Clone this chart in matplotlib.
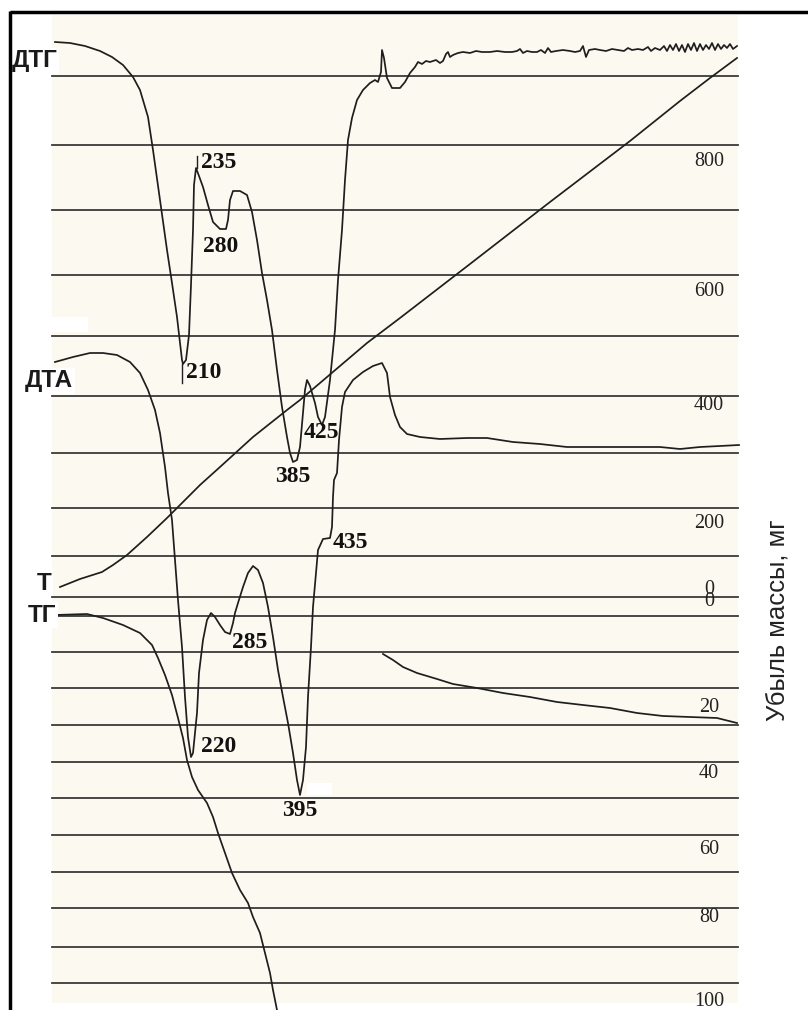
import matplotlib
matplotlib.use("Agg")
import matplotlib.pyplot as plt
from matplotlib.patches import Rectangle

# ---------------- data (chart units: x right, y down) ----
grid_y = [76, 145, 210, 275, 336, 396, 453, 508, 556, 597, 616, 652, 688, 725,
          762, 798, 835, 872, 908, 947, 983]

dtg_x = [55, 70, 85, 100, 112, 123, 133, 140, 148, 153, 160, 167, 172, 177, 180, 182, 183, 186, 189,
         191, 193, 194, 196, 199, 203, 208, 213, 220, 226, 228, 230, 233, 240, 247, 252, 257,
         262, 267, 272, 277, 282, 287, 290, 293, 297, 300, 303, 305, 307, 310, 315, 318,
         322, 325, 330, 335, 338, 342, 345, 348, 352, 357, 363, 370, 375, 378, 381, 382,
         384, 387, 392, 400, 405, 410, 415, 418, 422, 426, 430, 436, 440, 443, 446, 448,
         450, 453, 458, 463, 470, 476, 482, 490, 497, 505, 512, 517, 520, 523, 527, 532,
         537, 541, 545, 548, 551, 556, 563, 570, 575, 580, 583, 586, 589, 595, 600, 606,
         612, 618, 624, 628, 632, 638, 643, 648, 651, 655, 660, 664, 667, 670, 673, 676,
         679, 682, 685, 688, 691, 694, 697, 700, 703, 706, 709, 712, 715, 718, 721, 724,
         727, 730, 733, 737]
dtg_y = [42, 43, 46, 51, 57, 65, 77, 90, 117, 150, 200, 250, 283, 317, 343, 360, 364, 360, 335,
         285, 230, 185, 168, 176, 187, 205, 222, 229, 229, 220, 200, 191, 191, 195, 212, 240,
         273, 300, 330, 370, 407, 437, 453, 462, 460, 447, 413, 390, 380, 386, 403, 417,
         425, 417, 380, 330, 280, 230, 180, 140, 118, 100, 90, 83, 80, 82, 72, 50,
         58, 78, 88, 88, 82, 73, 67, 62, 64, 61, 62, 60, 63, 61, 54, 52,
         57, 55, 53, 52, 53, 51, 52, 52, 51, 52, 52, 51, 49, 53, 51, 52,
         52, 50, 53, 48, 52, 51, 50, 51, 52, 51, 46, 57, 50, 49, 50, 51,
         49, 50, 51, 48, 50, 49, 50, 47, 51, 48, 50, 46, 51, 45, 50, 44,
         51, 45, 52, 44, 50, 43, 51, 44, 50, 45, 49, 43, 50, 44, 49, 45,
         48, 44, 49, 46]

dta_x = [55, 73, 90, 103, 117, 130, 140, 148, 155, 160, 165, 168, 172, 175, 178, 182, 185, 188,
         191, 193, 197, 199, 203, 207, 211, 215, 220, 225, 230, 233, 235, 238, 243, 248,
         253, 258, 263, 268, 273, 278, 283, 288, 293, 297, 300, 303, 306, 308, 311, 313,
         316, 318, 323, 330, 332, 333, 334, 337, 339, 342, 345, 353, 363, 373, 382, 387,
         390, 395, 400, 407, 420, 440, 467, 487, 513, 540, 567, 600, 633, 660, 680, 700,
         720, 739]
dta_y = [362, 357, 353, 353, 355, 362, 373, 390, 410, 433, 467, 493, 520, 560, 600, 647, 697, 737,
         757, 753, 713, 673, 640, 620, 613, 617, 625, 632, 634, 623, 613, 603, 587, 573,
         566, 570, 583, 607, 637, 670, 697, 723, 753, 780, 795, 780, 747, 697, 647, 607,
         573, 550, 539, 538, 527, 497, 480, 473, 440, 407, 392, 380, 372, 366, 363, 373,
         397, 415, 427, 434, 437, 439, 438, 438, 442, 444, 447, 447, 447, 447, 449, 447,
         446, 445]

t_x = [60, 80, 102, 113, 127, 147, 167, 180, 200, 220, 253, 287, 300, 367, 400, 470, 550,
       630, 680, 710, 737]
t_y = [587, 579, 572, 565, 555, 537, 518, 505, 485, 467, 437, 410, 400, 343, 318, 264, 202,
       141, 101, 78, 58]

tg1_x = [55, 87, 103, 123, 140, 152, 158, 165, 172, 178, 183, 187, 192, 198, 207, 213, 218,
         225, 232, 240, 248, 253, 260, 265, 270, 273, 277]
tg1_y = [615, 614, 618, 625, 633, 645, 658, 675, 695, 718, 738, 760, 777, 790, 803, 817, 833,
         853, 873, 890, 903, 917, 933, 953, 973, 990, 1010]

tg2_x = [383, 393, 403, 417, 437, 453, 477, 503, 530, 557, 583, 610, 637, 663, 690, 717, 737]
tg2_y = [654, 660, 667, 673, 679, 684, 688, 693, 697, 702, 705, 708, 713, 716, 717, 718, 723]

peak_labels = ["235", "280", "210", "385", "425", "435", "285", "220", "395"]
peak_pos = [(219, 163), (221, 247), (204, 372), (293, 477), (321, 433), (350, 543),
            (250, 643), (219, 747), (300, 811)]

right_labels = ["800", "600", "400", "200", "0", "0", "20", "40", "60", "80", "100"]
right_y = [162, 292, 405, 523, 589, 602, 707, 773, 850, 917, 1002]

curve_names = ["ДТГ", "ДТА", "Т", "ТГ"]
curve_name_pos = [(12, 61), (25, 381), (37, 583), (28, 615)]

# ---------------- drawing ----------------
fig = plt.figure(figsize=(8.08, 10.10), dpi=100)
ax = fig.add_axes([0, 0, 1, 1])
ax.set_xlim(0, 808)
ax.set_ylim(1010, 0)
ax.axis("off")

paper = "#FCFAF0"
ink = "#1e1e1e"

ax.add_patch(Rectangle((52, 15), 686, 988, facecolor=paper, edgecolor="none", zorder=0))
for gy in grid_y:
    ax.plot([52, 738], [gy, gy], color="#3a3a3a", lw=1.3, zorder=1)

# white patches from the scan
ax.add_patch(Rectangle((52, 317), 36, 15, facecolor="white", edgecolor="none", zorder=2))
ax.add_patch(Rectangle((307, 783), 25, 12, facecolor="white", edgecolor="none", zorder=2))

for xs, ys in [(dtg_x, dtg_y), (dta_x, dta_y), (t_x, t_y), (tg1_x, tg1_y), (tg2_x, tg2_y)]:
    ax.plot(xs, ys, color=ink, lw=1.25, zorder=3, solid_joinstyle="round")

# small marker strokes under/over peak labels
ax.plot([182, 182], [364, 383], color=ink, lw=1.0, zorder=3)
ax.plot([197, 197], [156, 168], color=ink, lw=1.0, zorder=3)

for txt, (px, py) in zip(peak_labels, peak_pos):
    ax.text(px, py, txt, ha="center", va="center", fontsize=17, fontweight="bold",
            family="Liberation Serif", color="#111111", zorder=4)

for txt, ry in zip(right_labels, right_y):
    ax.text(709, ry, txt, ha="center", va="center", fontsize=14.5,
            family="Liberation Serif", color="#222222", zorder=4)

for txt, (lx, ly) in zip(curve_names, curve_name_pos):
    ax.text(lx, ly, txt, ha="left", va="center", fontsize=17.5, fontweight="bold",
            family="Liberation Sans", color="#1a1a1a", zorder=4,
            bbox=dict(facecolor="white", edgecolor="none", pad=1.0))

ax.text(778, 620, "Убыль массы, мг", rotation=90, ha="center", va="center",
        fontsize=18.5, family="Liberation Sans", color="#222222")

# frame
ax.plot([10, 808], [12, 12], color="black", lw=2.5, zorder=5, solid_capstyle="butt")
ax.plot([10, 10], [11, 1010], color="black", lw=2.5, zorder=5, solid_capstyle="butt")

fig.savefig("out.png", dpi=100)
